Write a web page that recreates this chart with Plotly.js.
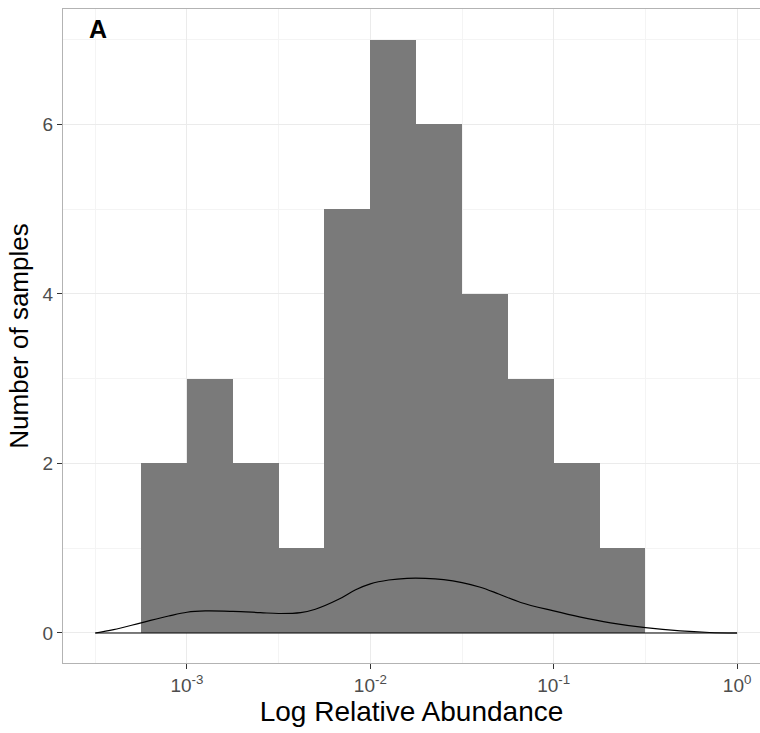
<!DOCTYPE html>
<html>
<head>
<meta charset="utf-8">
<script src="https://cdn.plot.ly/plotly-3.0.1.min.js"></script>
<style>html,body{margin:0;padding:0;background:#fff;}#chart{width:760px;height:733px;}</style>
</head>
<body>
<div id="chart"></div>
<script>
// Histogram bins (log10 of relative abundance), width 0.25 decades
const binStarts = [-3.25, -3.0, -2.75, -2.5, -2.25, -2.0, -1.75, -1.5, -1.25, -1.0, -0.75];
const counts    = [2, 3, 2, 1, 5, 7, 6, 4, 3, 2, 1];
const binWidth = 0.25;

// Density curve (log10 x, scaled density)
const densX = [-3.5, -3.4, -3.25, -3.1, -3.0, -2.9, -2.75, -2.6, -2.5, -2.38, -2.3, -2.17, -2.08, -2.0, -1.9, -1.8, -1.7, -1.6, -1.5, -1.4, -1.3, -1.18, -1.0, -0.86, -0.69, -0.5, -0.31, -0.15, 0.0];
const densY = [0.0, 0.04, 0.12, 0.2, 0.245, 0.26, 0.255, 0.24, 0.23, 0.24, 0.28, 0.4, 0.51, 0.58, 0.625, 0.645, 0.645, 0.63, 0.595, 0.54, 0.46, 0.36, 0.26, 0.19, 0.12, 0.063, 0.024, 0.006, 0.0];

// Axis ticks
const xTickVals = [-3, -2, -1, 0];
const xTickText = ['10<sup>-3</sup>', '10<sup>-2</sup>', '10<sup>-1</sup>', '10<sup>0</sup>'];
const yTickVals = [0, 2, 4, 6];

const binCenters = binStarts.map(s => s + binWidth / 2);

const traces = [
  {
    type: 'bar', x: binCenters, y: counts, width: binWidth,
    marker: {color: '#7a7a7a', line: {width: 0}},
    hoverinfo: 'skip', showlegend: false
  },
  {
    type: 'scatter', mode: 'lines', x: densX, y: densY,
    line: {color: '#000000', width: 1.2, shape: 'spline', smoothing: 1},
    hoverinfo: 'skip', showlegend: false
  },
  {
    type: 'scatter', mode: 'lines',
    x: [densX[0], densX[densX.length - 1]], y: [densY[0], densY[densY.length - 1]],
    line: {color: '#000000', width: 1.2},
    hoverinfo: 'skip', showlegend: false
  }
];

const fontFam = 'Liberation Sans, Arial, Helvetica, sans-serif';

const layout = {
  width: 760, height: 733,
  margin: {l: 63, r: 0, t: 9, b: 70},
  paper_bgcolor: '#ffffff', plot_bgcolor: '#ffffff',
  bargap: 0,
  font: {family: fontFam, color: '#4d4d4d'},
  xaxis: {
    type: 'linear', range: [-3.676, 0.125],
    tickmode: 'array', tickvals: xTickVals, ticktext: xTickText,
    tickfont: {size: 19, color: '#4d4d4d'},
    ticks: 'outside', ticklen: 5, tickcolor: '#333333', tickwidth: 1,
    showgrid: true, gridcolor: '#ebebeb', gridwidth: 1,
    minor: {tickvals: [-3.5, -2.5, -1.5, -0.5], showgrid: true, gridcolor: '#f4f4f4', gridwidth: 1, ticks: ''},
    zeroline: false,
    showline: true, linecolor: '#b3b3b3', linewidth: 1, mirror: true,
    title: {text: 'Log Relative Abundance', font: {size: 28, color: '#000000'}, standoff: 2}
  },
  yaxis: {
    range: [-0.354, 7.36],
    tickmode: 'array', tickvals: yTickVals,
    tickfont: {size: 19, color: '#4d4d4d'},
    ticks: 'outside', ticklen: 5, tickcolor: '#333333', tickwidth: 1,
    showgrid: true, gridcolor: '#ebebeb', gridwidth: 1,
    minor: {tickvals: [1, 3, 5, 7], showgrid: true, gridcolor: '#f4f4f4', gridwidth: 1, ticks: ''},
    zeroline: false,
    showline: true, linecolor: '#b3b3b3', linewidth: 1, mirror: true,
    title: {text: 'Number of samples', font: {size: 26, color: '#000000'}, standoff: 6}
  },
  annotations: [{
    text: '<b>A</b>', xref: 'paper', yref: 'paper', x: 0.035, y: 0.969,
    xanchor: 'left', yanchor: 'middle', showarrow: false,
    font: {size: 25, color: '#000000', family: fontFam}
  }]
};

Plotly.newPlot('chart', traces, layout, {displayModeBar: false, staticPlot: true});
</script>
</body>
</html>
